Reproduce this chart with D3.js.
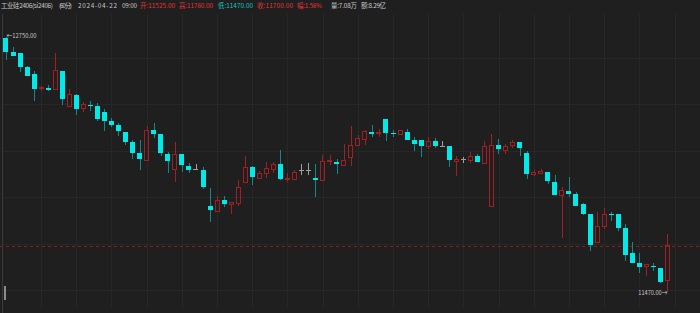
<!DOCTYPE html>
<html>
<head>
<meta charset="utf-8" />
<title>工业硅2406 (60分)</title>
<script src="https://d3js.org/d3.v7.min.js"></script>
<style>
  html, body { margin: 0; padding: 0; background: #1f1f1f; overflow: hidden; }
  svg { display: block; }
  text { font-family: "Noto Sans CJK SC", "Noto Sans", sans-serif; }
</style>
</head>
<body>
<div id="chart"></div>
<script>
// 60-minute bars, oldest first
var opens = [12745, 12675, 12670, 12600, 12565, 12490, 12495, 12485, 12580, 12400,
  12460, 12390, 12410, 12405, 12375, 12330, 12310, 12275, 12220, 12165,
  12130, 12285, 12265, 12160, 12085, 12160, 12100, 12085, 12080, 11900,
  11875, 11930, 11910, 11915, 12020, 12095, 12040, 12065, 12085, 12110,
  12035, 12035, 12080, 12080, 12040, 12030, 12125, 12120, 12105, 12145,
  12205, 12235, 12275, 12265, 12340, 12270, 12260, 12275, 12230, 12230,
  12200, 12225, 12200, 12200, 12125, 12135, 12130, 12150, 12115, 11900,
  12205, 12180, 12205, 12220, 12165, 12060, 12065, 12070, 12020, 11955,
  11975, 11960, 11910, 11860, 11715, 11800, 11860, 11860, 11790, 11665,
  11615, 11595, 11600, 11590, 11525];
var highs = [12750, 12700, 12670, 12605, 12580, 12505, 12510, 12670, 12580, 12490,
  12465, 12425, 12430, 12420, 12390, 12345, 12320, 12275, 12230, 12230,
  12305, 12320, 12265, 12170, 12220, 12160, 12115, 12110, 12095, 11990,
  11950, 11950, 11920, 12030, 12150, 12100, 12075, 12120, 12120, 12180,
  12065, 12080, 12110, 12115, 12110, 12155, 12155, 12135, 12210, 12305,
  12255, 12285, 12310, 12290, 12340, 12285, 12280, 12290, 12245, 12230,
  12245, 12240, 12225, 12200, 12150, 12145, 12170, 12160, 12225, 12265,
  12235, 12210, 12230, 12220, 12175, 12080, 12085, 12070, 12055, 11995,
  12045, 11970, 11915, 11860, 11870, 11890, 11870, 11860, 11810, 11720,
  11665, 11610, 11615, 11590, 11760];
var lows = [12635, 12655, 12575, 12555, 12430, 12480, 12480, 12485, 12410, 12400,
  12360, 12375, 12380, 12330, 12280, 12300, 12250, 12205, 12135, 12080,
  12130, 12240, 12150, 12065, 12020, 12070, 12065, 12080, 11985, 11820,
  11875, 11895, 11860, 11900, 12020, 12005, 12035, 12040, 12065, 12030,
  12020, 12030, 12055, 12055, 11945, 12030, 12105, 12060, 12105, 12100,
  12205, 12205, 12245, 12245, 12225, 12245, 12260, 12230, 12175, 12145,
  12185, 12190, 12200, 12095, 12050, 12115, 12115, 12120, 12115, 11900,
  12160, 12160, 12190, 12150, 12035, 12050, 12060, 12010, 11955, 11740,
  11945, 11900, 11855, 11675, 11715, 11785, 11825, 11775, 11625, 11615,
  11565, 11550, 11575, 11515, 11470];
var closes = [12675, 12655, 12600, 12555, 12490, 12495, 12485, 12580, 12440, 12460,
  12390, 12410, 12405, 12340, 12330, 12310, 12280, 12220, 12165, 12135,
  12280, 12265, 12165, 12125, 12160, 12105, 12080, 12085, 11995, 11880,
  11930, 11910, 11920, 11995, 12095, 12045, 12065, 12090, 12110, 12035,
  12040, 12070, 12080, 12080, 12030, 12125, 12130, 12110, 12130, 12205,
  12240, 12275, 12265, 12270, 12270, 12265, 12280, 12230, 12210, 12200,
  12225, 12200, 12200, 12130, 12135, 12135, 12150, 12120, 12200, 12205,
  12185, 12200, 12220, 12190, 12060, 12070, 12075, 12025, 11955, 11980,
  11960, 11900, 11860, 11705, 11800, 11860, 11855, 11790, 11655, 11615,
  11595, 11605, 11595, 11520, 11700];

// header of the last bar
var headTitle = ["工业硅2406(si2406)", "(60分)", "2024-04-22", "09:00"];
var headLabels = ["开", "高", "低", "收", "幅", "量", "额"];
var headValues = ["11525.00", "11760.00", "11470.00", "11700.00", "1.56%", "7.08万", "8.29亿"];

var maxLabel = "12750.00";
var minLabel = "11470.00";

var upColor = "#a11f22", downColor = "#00eaea", downWick = "#11898b", flatColor = "#a0a0a0";

var W = 700, H = 313;
var svg = d3.select("#chart").append("svg")
  .attr("width", W).attr("height", H)
  .style("background", "#1f1f1f");

var bars = opens.map(function (o, i) {
  return { i: i, o: o, h: highs[i], l: lows[i], c: closes[i] };
});

var x = d3.scaleBand()
  .domain(d3.range(bars.length))
  .range([2.3, 670.8])
  .paddingInner(0.34)
  .paddingOuter(0.17);

var y = d3.scaleLinear()
  .domain([11470, 12750])
  .range([291.7, 37]);

// grid
var grid = svg.append("g").attr("stroke", "#272727").attr("shape-rendering", "crispEdges");
grid.selectAll(".vg").data(d3.range(41.5, W, 35.2)).enter().append("line")
  .attr("x1", function (d) { return d; }).attr("x2", function (d) { return d; })
  .attr("y1", 14).attr("y2", 308);
grid.selectAll(".hg").data([58, 104.5, 151, 197.5, 244, 290.5]).enter().append("line")
  .attr("x1", 3).attr("x2", W)
  .attr("y1", function (d) { return d; }).attr("y2", function (d) { return d; });

svg.append("line").attr("x1", 2.5).attr("x2", 2.5).attr("y1", 14).attr("y2", 313)
  .attr("stroke", "#3a3a3a");
svg.append("rect").attr("x", 4).attr("y", 286).attr("width", 2).attr("height", 14)
  .attr("fill", "#8c8c8c");

// last close line
svg.append("line")
  .attr("x1", 0).attr("x2", W)
  .attr("y1", Math.round(y(closes[closes.length - 1])) + 0.5)
  .attr("y2", Math.round(y(closes[closes.length - 1])) + 0.5)
  .attr("stroke", "#8a1c1c").attr("stroke-dasharray", "3,3");

// candles
var bw = x.bandwidth();
var cx = function (d) { return Math.round(x(d.i) + bw / 2) + 0.5; };
function wickOf(d) { return d.c > d.o ? upColor : (d.c < d.o ? downWick : flatColor); }

var g = svg.append("g").attr("shape-rendering", "crispEdges");
var candle = g.selectAll(".candle").data(bars).enter().append("g").attr("class", "candle");

// upper wick
candle.append("line")
  .attr("x1", cx).attr("x2", cx)
  .attr("y1", function (d) { return y(d.h); })
  .attr("y2", function (d) { return y(Math.max(d.o, d.c)); })
  .attr("stroke", wickOf);
// lower wick
candle.append("line")
  .attr("x1", cx).attr("x2", cx)
  .attr("y1", function (d) { return y(Math.min(d.o, d.c)); })
  .attr("y2", function (d) { return y(d.l); })
  .attr("stroke", wickOf);

// down bars: filled
candle.filter(function (d) { return d.c < d.o; }).append("rect")
  .attr("x", function (d) { return Math.round(x(d.i)); })
  .attr("y", function (d) { return y(d.o); })
  .attr("width", Math.round(bw))
  .attr("height", function (d) { return Math.max(1, y(d.c) - y(d.o)); })
  .attr("fill", downColor);

// up bars: hollow
candle.filter(function (d) { return d.c > d.o; }).append("rect")
  .attr("x", function (d) { return Math.round(x(d.i)) + 0.5; })
  .attr("y", function (d) { return y(d.c); })
  .attr("width", Math.round(bw) - 1)
  .attr("height", function (d) { return Math.max(1, y(d.o) - y(d.c)); })
  .attr("fill", "none")
  .attr("stroke", upColor);

// flat bars
candle.filter(function (d) { return d.c === d.o; }).append("line")
  .attr("x1", function (d) { return Math.round(x(d.i)); })
  .attr("x2", function (d) { return Math.round(x(d.i)) + Math.round(bw); })
  .attr("y1", function (d) { return y(d.o); })
  .attr("y2", function (d) { return y(d.o); })
  .attr("stroke", flatColor);

// max / min markers
var iMax = d3.maxIndex(highs), iMin = d3.minIndex(lows);
svg.append("text")
  .attr("x", x(iMax) + 3).attr("y", y(highs[iMax]) + 0.5)
  .attr("fill", "#c8c8c8").attr("font-size", 6.5)
  .attr("textLength", 30).attr("lengthAdjust", "spacingAndGlyphs")
  .text("\u2190" + maxLabel);
svg.append("text")
  .attr("x", x(iMin) + bw / 2).attr("y", y(lows[iMin]) + 3.3)
  .attr("text-anchor", "end")
  .attr("fill", "#c8c8c8").attr("font-size", 6.5)
  .attr("textLength", 29).attr("lengthAdjust", "spacingAndGlyphs")
  .text(minLabel + "\u2192");

// header
var hdr = svg.append("g").attr("font-size", 6.4);
var titleX = [1, 59, 78, 122], titleW = [52, 13, 39, 15];
hdr.selectAll(".ht").data(headTitle).enter().append("text")
  .attr("x", function (d, i) { return titleX[i]; }).attr("y", 8)
  .attr("textLength", function (d, i) { return titleW[i]; })
  .attr("lengthAdjust", "spacing")
  .attr("fill", "#c8c8c8").text(function (d) { return d; });
var valX = [140, 179, 218, 257, 297, 331, 361];
var valW = [35, 34, 35, 36, 25, 26, 25];
var valColor = ["#e0353a", "#e0353a", "#13c4c4", "#e0353a", "#e0353a", "#c8c8c8", "#c8c8c8"];
hdr.selectAll(".hv").data(headLabels).enter().append("text")
  .attr("x", function (d, i) { return valX[i]; }).attr("y", 8)
  .attr("textLength", function (d, i) { return valW[i]; })
  .attr("lengthAdjust", "spacing")
  .attr("fill", function (d, i) { return valColor[i]; })
  .text(function (d, i) { return d + ":" + headValues[i]; });
</script>
</body>
</html>
